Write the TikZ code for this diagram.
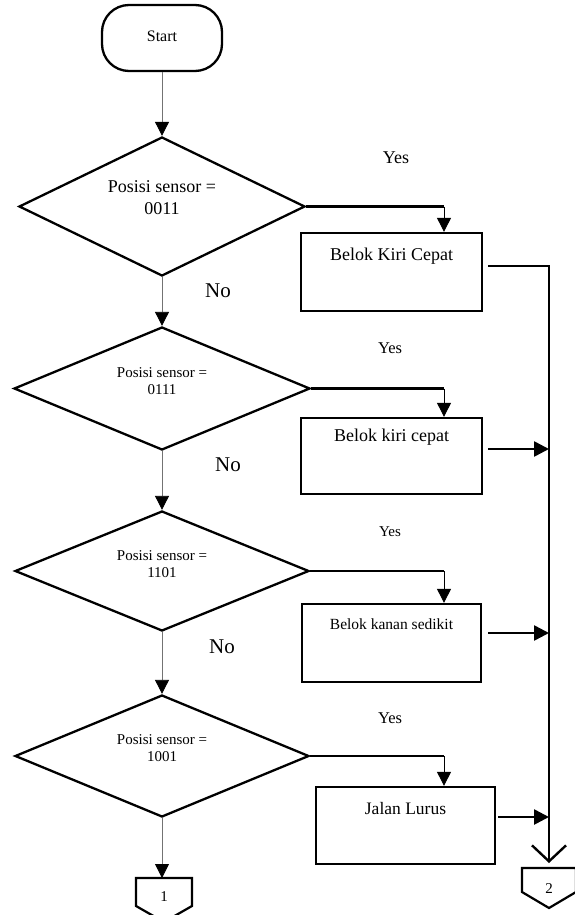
\documentclass[tikz,border=0pt]{standalone}
\usepackage{fontspec}
\setmainfont{Liberation Serif}
\usetikzlibrary{shapes.geometric,arrows.meta,calc}

\newcommand\sz[2]{\fontsize{#1}{#2}\selectfont}

\begin{document}
\begin{tikzpicture}[x=1pt,y=-1pt,
  outline/.style={draw, line width=2.3pt, inner sep=0pt},
  decision/.style={outline, diamond, minimum width=#1},
  process/.style={outline, rectangle},
  terminal/.style={outline, rectangle, rounded corners=27pt},
  txt/.style={inner sep=0pt, align=center},
  flow/.style={draw=black!55, line width=0.8pt, -{Triangle[length=14pt,width=14pt,fill=black,color=black]}},
  drop/.style={draw, line width=0.9pt, -{Triangle[length=14pt,width=14pt]}},
  branch/.style={draw, line width=2.2pt},
  feed/.style={draw, line width=2.6pt, -{Triangle[length=15pt,width=15pt]}},
  collector/.style={draw, line width=2.6pt, -{Straight Barb[length=16pt,width=34pt,line width=2.4pt]}, shorten >=5pt},
  pageref/.style={inner sep=0pt, outer sep=0pt}
]
\useasboundingbox (0,0) rectangle (575,915);

% start terminal
\node[terminal, minimum width=120pt, minimum height=66pt] (start) at (162,38) {};
\node[txt, font=\sz{16}{16}] (tstart) at (162,36) {Start};

% decisions
\node[decision=286pt, minimum height=139pt] (d1) at (162,206.5) {};
\node[txt, font=\sz{18}{22}] (td1) at (162,198) {Posisi sensor =\\0011};
\node[decision=296pt, minimum height=123pt] (d2) at (162,388.5) {};
\node[txt, font=\sz{15}{17}] (td2) at (162,381) {Posisi sensor =\\0111};
\node[decision=294pt, minimum height=120pt] (d3) at (162,571) {};
\node[txt, font=\sz{15}{17}] (td3) at (162,564) {Posisi sensor =\\1101};
\node[decision=294pt, minimum height=122pt] (d4) at (162,756) {};
\node[txt, font=\sz{15}{17}] (td4) at (162,748) {Posisi sensor =\\1001};

% actions
\node[process, minimum width=181pt, minimum height=78pt] (b1) at (391.5,272) {};
\node[txt, font=\sz{18}{18}] (tb1) at (391.5,256) {Belok Kiri Cepat};
\node[process, minimum width=181pt, minimum height=76pt] (b2) at (391.5,456) {};
\node[txt, font=\sz{18}{18}] (tb2) at (391.5,437) {Belok kiri cepat};
\node[process, minimum width=179pt, minimum height=78pt] (b3) at (391.5,643) {};
\node[txt, font=\sz{15.5}{15.5}] (tb3) at (391.5,624) {Belok kanan sedikit};
\node[process, minimum width=179pt, minimum height=77pt] (b4) at (405.5,825.5) {};
\node[txt, font=\sz{17.5}{17.5}] (tb4) at (405.5,809) {Jalan Lurus};

% off-page connectors
\node[pageref, minimum width=56pt, minimum height=44pt] (c1) at (164,900) {};
\draw[line width=2.2pt] (c1.north west) -- (c1.north east) -- ($(c1.north east)+(0,28)$)
  -- (c1.south) -- ($(c1.north west)+(0,28)$) -- cycle;
\node[txt, font=\sz{15}{15}] (tc1) at (164,897) {1};
\node[pageref, minimum width=54pt, minimum height=40pt] (c2) at (549,888) {};
\draw[line width=2.2pt] (c2.north west) -- (c2.north east) -- ($(c2.north east)+(0,24)$)
  -- (c2.south) -- ($(c2.north west)+(0,24)$) -- cycle;
\node[txt, font=\sz{15}{15}] (tc2) at (549,889) {2};

% main column
\draw[flow] (start) -- (d1);
\draw[flow] (d1) -- (d2);
\draw[flow] (d2) -- (d3);
\draw[flow] (d3) -- (d4);
\draw[flow] (d4.south) -- (d4.south |- c1.north);

% yes branches
\coordinate (k1) at (444,206.5);
\coordinate (k2) at (444,388.5);
\coordinate (k3) at (444,571);
\coordinate (k4) at (444,756);
\draw[branch] (d1.east) -- (k1);
\draw[drop] (k1) -- (k1 |- b1.north);
\draw[branch] (d2.east) -- (k2);
\draw[drop] (k2) -- (k2 |- b2.north);
\draw[branch] (d3.east) -- (k3);
\draw[drop] (k3) -- (k3 |- b3.north);
\draw[branch] (d4.east) -- (k4);
\draw[drop] (k4) -- (k4 |- b4.north);

% collecting line to connector 2
\coordinate (o1) at ($(b1.east)+(5,-6)$);
\coordinate (bj) at (549,266);
\draw[collector] (o1) -- (bj) -- (bj |- c2.north);
\coordinate (o2) at ($(b2.east)+(5,-7)$);
\coordinate (o3) at ($(b3.east)+(6,-10)$);
\coordinate (o4) at ($(b4.east)+(2,-8.5)$);
\draw[feed] (o2) -- (o2 -| bj);
\draw[feed] (o3) -- (o3 -| bj);
\draw[feed] (o4) -- (o4 -| bj);

% labels
\node[txt, font=\sz{18}{18}] (y1) at (396,158) {Yes};
\node[txt, font=\sz{16.5}{16.5}] (y2) at (390,348) {Yes};
\node[txt, font=\sz{15}{15}] (y3) at (390,532) {Yes};
\node[txt, font=\sz{16.5}{16.5}] (y4) at (390,718) {Yes};
\node[txt, font=\sz{21}{21}] (n1) at (218,291) {No};
\node[txt, font=\sz{21}{21}] (n2) at (228,465) {No};
\node[txt, font=\sz{21}{21}] (n3) at (222,647) {No};
\end{tikzpicture}
\end{document}
